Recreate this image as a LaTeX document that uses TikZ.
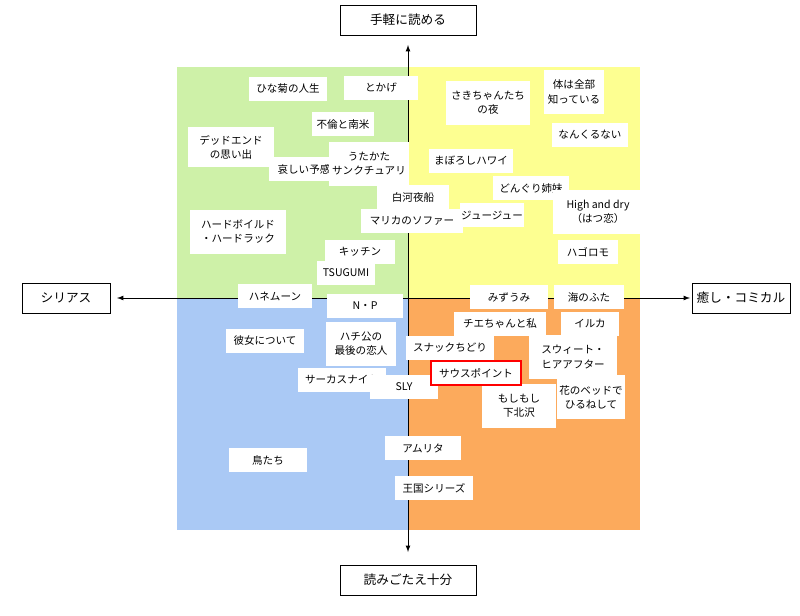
\documentclass[tikz,border=0pt]{standalone}
\usepackage{fontspec}
\setmainfont{Noto Sans CJK JP}
\definecolor{serious}{RGB}{206,241,168}
\definecolor{easy}{RGB}{253,255,145}
\definecolor{deep}{RGB}{170,201,245}
\definecolor{comic}{RGB}{252,170,92}
\tikzstyle{every node}=[font=\fontsize{7.5}{10}\selectfont]
\tikzstyle{book}=[fill=white, align=center, inner sep=1pt, minimum height=0.6cm]
\tikzstyle{tall}=[book, minimum height=1.1cm]
\tikzstyle{axislabel}=[draw=black, line width=0.5pt, fill=white, minimum width=3.4cm, minimum height=0.75cm, font=\fontsize{9}{11}\selectfont]

\begin{document}
\begin{tikzpicture}[x=0.025cm, y=-0.025cm]
    \useasboundingbox (0,0) rectangle (800,616);
    % quadrants
    \fill[serious] (177,67) rectangle (408,298);
    \fill[easy] (408,67) rectangle (640,298);
    \fill[deep] (177,298) rectangle (408,530);
    \fill[comic] (408,298) rectangle (640,530);

    \node[axislabel] (top) at (408,20) {手軽に読める};
    \node[axislabel] (bottom) at (408,580) {読みごたえ十分};
    \node[axislabel, minimum width=2.2cm] (left) at (66,298) {シリアス};
    \node[axislabel, minimum width=2.2cm] (right) at (741,298) {癒し・コミカル};
    \coordinate (n) at (408,45);
    \coordinate (s) at (408,552);
    \coordinate (w) at (117,298);
    \coordinate (e) at (690,298);
    \draw[latex-latex, line width=0.6pt] (s) -- (n);
    \draw[latex-latex, line width=0.6pt] (w) -- (e);

    % books
    \node[book, minimum width=78*0.025cm] (hina) at (288,89) {ひな菊の人生};
    \node[book, minimum width=74*0.025cm] (tokage) at (381,88) {とかげ};
    \node[book, minimum width=62*0.025cm] (furin) at (343,124) {不倫と南米};
    \node[tall, minimum width=84*0.025cm] (saki) at (488,103) {さきちゃんたち\\の夜};
    \node[tall, minimum width=60*0.025cm] (karada) at (574,92) {体は全部\\知っている};
    \node[book, minimum width=76*0.025cm] (nanku) at (590,135) {なんくるない};
    \node[tall, minimum width=86*0.025cm, minimum height=1.0cm] (dead) at (231,147) {デッドエンド\\の思い出};
    \node[book, minimum width=70*0.025cm] (kanashii) at (304,169) {哀しい予感};
    \node[tall, minimum width=80*0.025cm] (utakata) at (369,164) {うたかた\\サンクチュアリ};
    \node[book, minimum width=84*0.025cm] (maboroshi) at (471,161) {まぼろしハワイ};
    \node[book, minimum width=72*0.025cm] (shirakawa) at (413,197) {白河夜船};
    \node[book, minimum width=76*0.025cm] (donguri) at (531,188) {どんぐり姉妹};
    \node[tall, minimum width=90*0.025cm] (high) at (598,212) {High and dry\\（はつ恋）};
    \node[tall, minimum width=96*0.025cm] (hard) at (238,232) {ハードボイルド\\・ハードラック};
    \node[book, minimum width=102*0.025cm] (marika) at (412,221) {マリカのソファー};
    \node[book, minimum width=62*0.025cm] (juju) at (492,215) {ジュージュー};
    \node[book, minimum width=70*0.025cm] (kitchen) at (360,252) {キッチン};
    \node[book, minimum width=60*0.025cm] (hagoromo) at (588,252) {ハゴロモ};
    \node[book, minimum width=58*0.025cm] (tsugumi) at (346,273) {TSUGUMI};
    \node[book, minimum width=74*0.025cm] (honey) at (275,296) {ハネムーン};
    \node[book, minimum width=78*0.025cm] (mizuumi) at (509,297) {みずうみ};
    \node[book, minimum width=70*0.025cm] (umi) at (589,297) {海のふた};
    \node[book, minimum width=76*0.025cm] (np) at (365,306) {N・P};
    \node[book, minimum width=92*0.025cm] (chie) at (500,324) {チエちゃんと私};
    \node[book, minimum width=58*0.025cm] (iruka) at (590,324) {イルカ};
    \node[tall, minimum width=70*0.025cm] (hachi) at (361,344) {ハチ公の\\最後の恋人};
    \node[book, minimum width=78*0.025cm] (kanojo) at (265,341) {彼女について};
    \node[book, minimum width=88*0.025cm] (snack) at (450,348) {スナックちどり};
    \node[tall, minimum width=88*0.025cm] (sweet) at (573,357) {スウィート・\\ヒアアフター};
    \node[book, minimum width=88*0.025cm] (circus) at (342,380) {サーカスナイト};
    \node[book, minimum width=68*0.025cm] (sly) at (404,387) {SLY};
    \node[tall, minimum width=68*0.025cm] (hana) at (591,397) {花のベッドで\\ひるねして};
    \node[tall, minimum width=74*0.025cm] (moshi) at (519,406) {もしもし\\下北沢};
    \node[book, minimum width=90*0.025cm, draw=red, line width=1.4pt] (south) at (476,373) {サウスポイント};
    \node[book, minimum width=76*0.025cm] (amrita) at (423,448) {アムリタ};
    \node[book, minimum width=78*0.025cm] (tori) at (268,460) {鳥たち};
    \node[book, minimum width=78*0.025cm] (oukoku) at (434,488) {王国シリーズ};
\end{tikzpicture}
\end{document}
